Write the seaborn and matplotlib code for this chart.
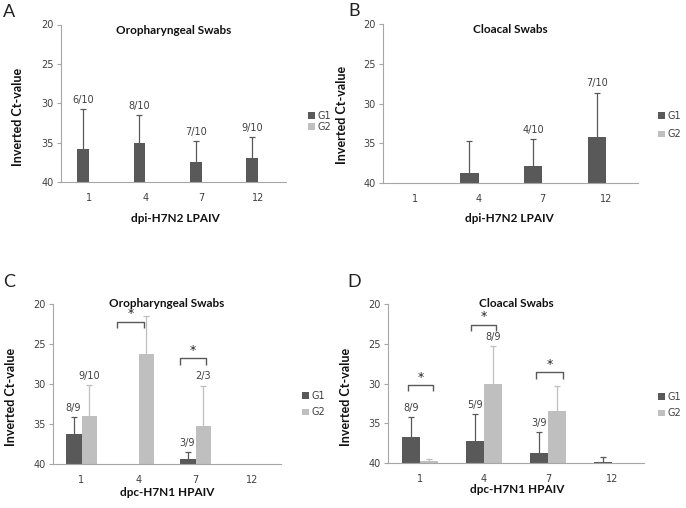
import numpy as np
import pandas as pd
import matplotlib
matplotlib.use("Agg")
import matplotlib.pyplot as plt
import seaborn as sns
from matplotlib.ticker import FixedLocator, FuncFormatter

nan = np.nan
days = ["1", "4", "7", "12"]
groups = ["G1", "G2"]

# mean Ct per day (nan = no bar) and Ct at the top of the error bar
a_g1 = [35.8, 35.1, 37.5, 37.0]
a_g1_err = [30.7, 31.5, 34.8, 34.3]
a_g2 = [nan, nan, nan, nan]
a_g2_err = [nan, nan, nan, nan]
a_g1_lab = ["6/10", "8/10", "7/10", "9/10"]
a_g2_lab = ["", "", "", ""]

b_g1 = [nan, 38.7, 37.9, 34.2]
b_g1_err = [nan, 34.7, 34.5, 28.6]
b_g2 = [nan, nan, nan, nan]
b_g2_err = [nan, nan, nan, nan]
b_g1_lab = ["", "", "4/10", "7/10"]
b_g2_lab = ["", "", "", ""]

c_g1 = [36.2, nan, 39.4, nan]
c_g1_err = [34.1, nan, 38.5, nan]
c_g2 = [34.0, 26.2, 35.2, nan]
c_g2_err = [30.1, 21.5, 30.2, nan]
c_g1_lab = ["8/9", "", "3/9", ""]
c_g2_lab = ["9/10", "", "2/3", ""]

d_g1 = [36.7, 37.2, 38.8, 39.85]
d_g1_err = [34.2, 33.8, 36.1, 39.2]
d_g2 = [39.8, 30.1, 33.5, nan]
d_g2_err = [39.5, 25.3, 30.3, nan]
d_g1_lab = ["8/9", "5/9", "3/9", ""]
d_g2_lab = ["", "8/9", "", ""]

# significance brackets: (day index, Ct level, left/right end relative to day)
c_sig = [(1, 22.2, -0.37, 0.09), (2, 26.8, -0.27, 0.18)]
d_sig = [(0, 30.2, -0.19, 0.20), (1, 22.6, -0.20, 0.19), (2, 28.6, -0.18, 0.23)]

BASE = 40
c1, c2 = "#595959", "#BFBFBF"
grey = "#A6A6A6"
txt = "#404040"

panels = [
    dict(letter="A", title="Oropharyngeal Swabs", xlabel="dpi-H7N2 LPAIV",
         g1=a_g1, g1e=a_g1_err, g2=a_g2, g2e=a_g2_err, l1=a_g1_lab, l2=a_g2_lab, sig=[],
         rect=[61, 24.5, 286, 182], width=0.42, leg=(1.098, 0.387, 0.1), ty=0.965,
         ylab=(-0.164, 0.41), xlab=(0.507, -0.197), letpos=(9, 12)),
    dict(letter="B", title="Cloacal Swabs", xlabel="dpi-H7N2 LPAIV",
         g1=b_g1, g1e=b_g1_err, g2=b_g2, g2e=b_g2_err, l1=b_g1_lab, l2=b_g2_lab, sig=[],
         rect=[383, 24.3, 638, 183], width=0.58, leg=(1.078, 0.365, 0.9), ty=0.97,
         ylab=(-0.137, 0.43), xlab=(0.494, -0.19), letpos=(354, 11)),
    dict(letter="C", title="Oropharyngeal Swabs", xlabel="dpc-H7N1 HPAIV",
         g1=c_g1, g1e=c_g1_err, g2=c_g2, g2e=c_g2_err, l1=c_g1_lab, l2=c_g2_lab, sig=c_sig,
         rect=[53, 304, 281, 464], width=0.56, leg=(1.091, 0.375, 0.7), ty=1.005,
         ylab=(-0.156, 0.42), xlab=(0.502, -0.144), letpos=(9, 282)),
    dict(letter="D", title="Cloacal Swabs", xlabel="dpc-H7N1 HPAIV",
         g1=d_g1, g1e=d_g1_err, g2=d_g2, g2e=d_g2_err, l1=d_g1_lab, l2=d_g2_lab, sig=d_sig,
         rect=[388, 304, 644, 463], width=0.56, leg=(1.055, 0.365, 0.7), ty=1.005,
         ylab=(-0.14, 0.415), xlab=(0.504, -0.13), letpos=(354, 282)),
]

sns.set_style("white")
plt.rcParams["font.family"] = ["DejaVu Sans"]
W, H = 686, 508
fig = plt.figure(figsize=(W / 100, H / 100), dpi=100)

for p in panels:
    x0, y0, x1, y1 = p["rect"]
    ax = fig.add_axes([x0 / W, 1 - y1 / H, (x1 - x0) / W, (y1 - y0) / H])
    df = pd.DataFrame({
        "day": days * 2,
        "group": ["G1"] * 4 + ["G2"] * 4,
        "ct": list(p["g1"]) + list(p["g2"]),
        "err": list(p["g1e"]) + list(p["g2e"]),
        "lab": list(p["l1"]) + list(p["l2"]),
    })
    # bars grow up from Ct 40, so plot depth below 40 and relabel the axis
    df["depth"] = BASE - df["ct"].fillna(BASE)
    sns.barplot(data=df, x="day", y="depth", hue="group", order=days, hue_order=groups,
                palette=[c1, c2], width=p["width"], errorbar=None, saturation=1,
                linewidth=0, edgecolor="none", ax=ax)

    for gi, (g, col) in enumerate(zip(groups, [c1, c2])):
        sub = df[df["group"] == g].reset_index(drop=True)
        for patch in ax.containers[gi]:
            cx = patch.get_x() + patch.get_width() / 2
            k = int(round(cx))
            ct, err, lab = sub.loc[k, "ct"], sub.loc[k, "err"], sub.loc[k, "lab"]
            if np.isnan(ct):
                continue
            # one-sided error bar (upwards only)
            ax.vlines(cx, BASE - ct, BASE - err, color=col, lw=0.9, zorder=3)
            ax.plot([cx], [BASE - err], marker="_", ms=5, mew=0.9, color=col, zorder=3)
            if lab:
                ax.annotate(lab, (cx, BASE - err), xytext=(0, 3), textcoords="offset points",
                            ha="center", va="bottom", fontsize=7, color=txt)

    for k, lev, lo, hi in p["sig"]:
        yl = BASE - lev
        ax.plot([k + lo, k + lo, k + hi, k + hi], [yl - 0.8, yl, yl, yl - 0.8],
                color=c1, lw=1, solid_capstyle="butt", zorder=4)
        ax.annotate("*", (k + (lo + hi) / 2, yl), xytext=(0, 1), textcoords="offset points",
                    ha="center", va="bottom", fontsize=9, color="#222222")

    ax.set_xlim(-0.5, 3.5)
    ax.set_ylim(0, 20)
    ax.yaxis.set_major_locator(FixedLocator([0, 5, 10, 15, 20]))
    ax.yaxis.set_major_formatter(FuncFormatter(lambda v, _: f"{BASE - v:.0f}"))
    ax.xaxis.set_minor_locator(FixedLocator([-0.5, 0.5, 1.5, 2.5, 3.5]))
    ax.tick_params(axis="x", which="major", length=0, pad=8, labelsize=7, labelcolor=txt)
    ax.tick_params(axis="x", which="minor", length=3, width=0.8, color=grey, direction="out")
    ax.tick_params(axis="y", which="major", length=3, width=0.8, color=grey, direction="out",
                   pad=2, labelsize=7, labelcolor=txt, left=True)
    for s in ["top", "right"]:
        ax.spines[s].set_visible(False)
    for s in ["left", "bottom"]:
        ax.spines[s].set_color(grey)
        ax.spines[s].set_linewidth(0.8)

    ax.text(0.5, p["ty"], p["title"], transform=ax.transAxes, ha="center", va="center",
            fontsize=8.5, fontweight="bold", family=["Lato", "DejaVu Sans"], color="#111111")
    ax.set_ylabel("Inverted Ct-value", fontsize=9, fontweight="bold",
                  family=["Lato", "DejaVu Sans"], color="#111111")
    ax.yaxis.set_label_coords(*p["ylab"])
    ax.set_xlabel(p["xlabel"], fontsize=8.5, fontweight="bold",
                  family=["Lato", "DejaVu Sans"], color="#111111")
    ax.xaxis.set_label_coords(*p["xlab"])

    lx, ly, ls = p["leg"]
    sns.move_legend(ax, "center left", bbox_to_anchor=(lx, ly), frameon=False, title=None,
                    fontsize=7, handlelength=0.7, handleheight=0.7, handletextpad=0.3,
                    borderpad=0, borderaxespad=0, labelspacing=ls, labelcolor=txt)

    fig.text(p["letpos"][0] / W, 1 - p["letpos"][1] / H, p["letter"], ha="center",
             va="center", fontsize=13, family=["Lato", "DejaVu Sans"], color="#222222")

fig.savefig("out.png", dpi=100)
